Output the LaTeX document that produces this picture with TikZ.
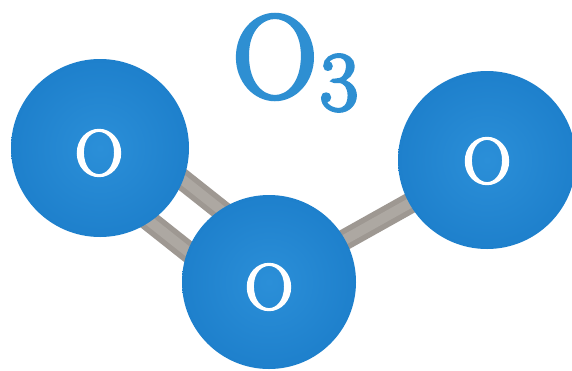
\documentclass[tikz,border=0pt]{standalone}
\usepackage{fontspec}
\newfontfamily\fatface[FakeBold=3]{Latin Modern Roman}
\newfontfamily\fatfaceb[FakeBold=3.5]{Latin Modern Roman}
\definecolor{ballin}{HTML}{2B8FD8}
\definecolor{ballout}{HTML}{1E80CC}
\definecolor{bonddark}{HTML}{9E9892}
\definecolor{bondlight}{HTML}{ADA8A2}
\definecolor{titleblue}{HTML}{2E8FD2}
\tikzset{
  ball/.style={circle,inner sep=0pt,minimum size=#1,inner color=ballin,outer color=ballout,draw=none},
  atomtext/.style={text=white,inner sep=0pt,xscale=1.04,font=\fatface\fontsize{65}{65}\selectfont},
  bondline/.style={draw=bonddark,line width=21pt},
  bondcore/.style={draw=bondlight,line width=10pt}
}
\begin{document}
\begin{tikzpicture}[x=1pt,y=-1pt]
\useasboundingbox (0,0) rectangle (572,370);
\fill[white] (0,0) rectangle (572,370);
\coordinate (cl) at (100,148);
\coordinate (cm) at (269,282);
\coordinate (cr) at (487,160);
\draw[bondline] ([shift={(16.5,-20.8)}]cl) -- ([shift={(16.5,-20.8)}]cm);
\draw[bondcore] ([shift={(16.5,-20.8)}]cl) -- ([shift={(16.5,-20.8)}]cm);
\draw[bondline] ([shift={(-16.5,20.8)}]cl) -- ([shift={(-16.5,20.8)}]cm);
\draw[bondcore] ([shift={(-16.5,20.8)}]cl) -- ([shift={(-16.5,20.8)}]cm);
\draw[bondline] (cm) -- (cr);
\draw[bondcore] (cm) -- (cr);
\node[ball=178pt] (left) at (cl) {};
\node[ball=178pt] (right) at (cr) {};
\node[ball=174pt] (mid) at (cm) {};
\node[atomtext] (tl) at (99,153) {O};
\node[atomtext] (tr) at (487,161) {O};
\node[atomtext] (tm) at (269,287) {O};
\node[text=titleblue,inner sep=0pt,font=\fatfaceb\fontsize{118}{118}\selectfont] (title) at (275,57) {O};
\node[text=titleblue,inner sep=0pt,font=\fatfaceb\fontsize{84}{84}\selectfont] (sub) at (339,83) {3};
\end{tikzpicture}
\end{document}
